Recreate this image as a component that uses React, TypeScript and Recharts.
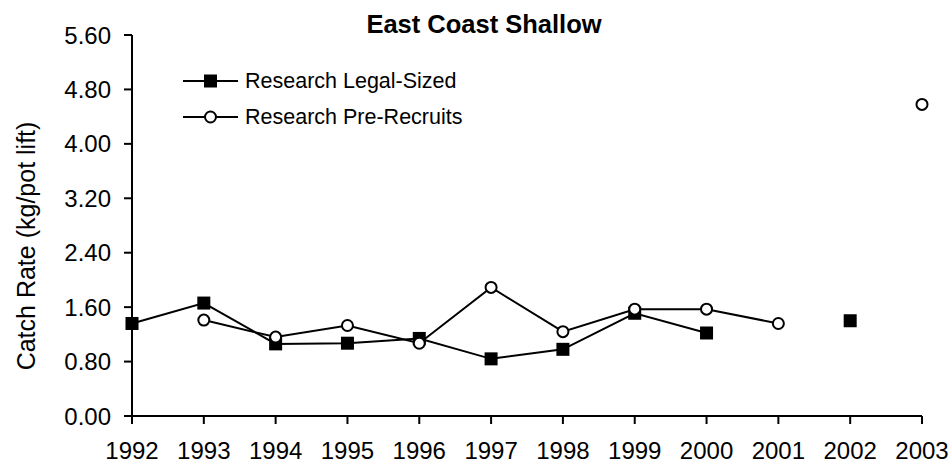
import { Legend, Line, LineChart, XAxis, YAxis } from "recharts";

const years = [1992, 1993, 1994, 1995, 1996, 1997, 1998, 1999, 2000, 2001, 2002, 2003];
const legalSized = [1.36, 1.66, 1.06, 1.07, 1.14, 0.84, 0.98, 1.51, 1.22, null, 1.4, null];
const preRecruits = [null, 1.41, 1.16, 1.33, 1.07, 1.89, 1.24, 1.57, 1.57, 1.36, null, 4.58];
const yTicks = [0, 0.8, 1.6, 2.4, 3.2, 4.0, 4.8, 5.6];

const data = years.map((year, i) => ({
  year,
  legal: legalSized[i],
  pre: preRecruits[i],
}));

const FONT = '"Liberation Sans", Arial, sans-serif';

const SquareDot = (props: any) => {
  const { cx, cy, index } = props;
  if (cx == null || cy == null) return <g key={`sq-${index}`} />;
  return <rect key={`sq-${index}`} x={cx - 6.5} y={cy - 6.5} width={13} height={13} fill="#000" />;
};

const CircleDot = (props: any) => {
  const { cx, cy, index } = props;
  if (cx == null || cy == null) return <g key={`ci-${index}`} />;
  return <circle key={`ci-${index}`} cx={cx} cy={cy} r={5.5} fill="#fff" stroke="#000" strokeWidth={2} />;
};

function LegendBox({ payload }: any) {
  return (
    <div style={{ fontFamily: FONT, fontSize: 21.5, color: "#000" }}>
      {(payload || []).map((p: any) => (
        <div key={p.value} style={{ display: "flex", alignItems: "center", height: 36 }}>
          <svg width={55} height={20}>
            <line x1={0} y1={10} x2={55} y2={10} stroke="#000" strokeWidth={2} />
            {p.dataKey === "legal" ? (
              <rect x={21} y={3.5} width={13} height={13} fill="#000" />
            ) : (
              <circle cx={27.5} cy={10} r={5.5} fill="#fff" stroke="#000" strokeWidth={2} />
            )}
          </svg>
          <span style={{ marginLeft: 7, whiteSpace: "nowrap" }}>{p.value}</span>
        </div>
      ))}
    </div>
  );
}

export default function App() {
  return (
    <div style={{ position: "absolute", left: 0, top: 0, width: 952, height: 463, background: "#fff", fontFamily: FONT }}>
      <div
        style={{
          position: "absolute",
          left: 284,
          width: 400,
          top: 12,
          textAlign: "center",
          fontSize: 25.5,
          fontWeight: "bold",
          lineHeight: 1,
        }}
      >
        East Coast Shallow
      </div>
      <div
        style={{
          position: "absolute",
          left: 26,
          top: 246,
          transform: "translate(-50%, -50%) rotate(-90deg)",
          whiteSpace: "nowrap",
          fontSize: 25,
          lineHeight: 1,
        }}
      >
        Catch Rate (kg/pot lift)
      </div>
      <LineChart width={952} height={463} data={data} margin={{ top: 35, right: 30, left: 52, bottom: 0 }}>
        <XAxis
          dataKey="year"
          height={47}
          stroke="#000"
          strokeWidth={2}
          tickSize={8}
          tickMargin={18}
          tick={{ fill: "#000", fontSize: 24, fontFamily: FONT }}
          interval={0}
        />
        <YAxis
          width={80}
          domain={[0, 5.6]}
          ticks={yTicks}
          stroke="#000"
          strokeWidth={2}
          tickSize={8}
          tickMargin={13}
          tick={{ fill: "#000", fontSize: 24, fontFamily: FONT }}
          tickFormatter={(v: number) => v.toFixed(2)}
        />
        <Legend
          layout="vertical"
          align="center"
          verticalAlign="middle"
          content={<LegendBox />}
          wrapperStyle={{ left: 183, top: 63, width: "auto" }}
        />
        <Line
          dataKey="legal"
          name="Research Legal-Sized"
          stroke="#000"
          strokeWidth={2}
          dot={SquareDot}
          activeDot={false}
          isAnimationActive={false}
        />
        <Line
          dataKey="pre"
          name="Research Pre-Recruits"
          stroke="#000"
          strokeWidth={2}
          dot={CircleDot}
          activeDot={false}
          isAnimationActive={false}
        />
      </LineChart>
    </div>
  );
}
